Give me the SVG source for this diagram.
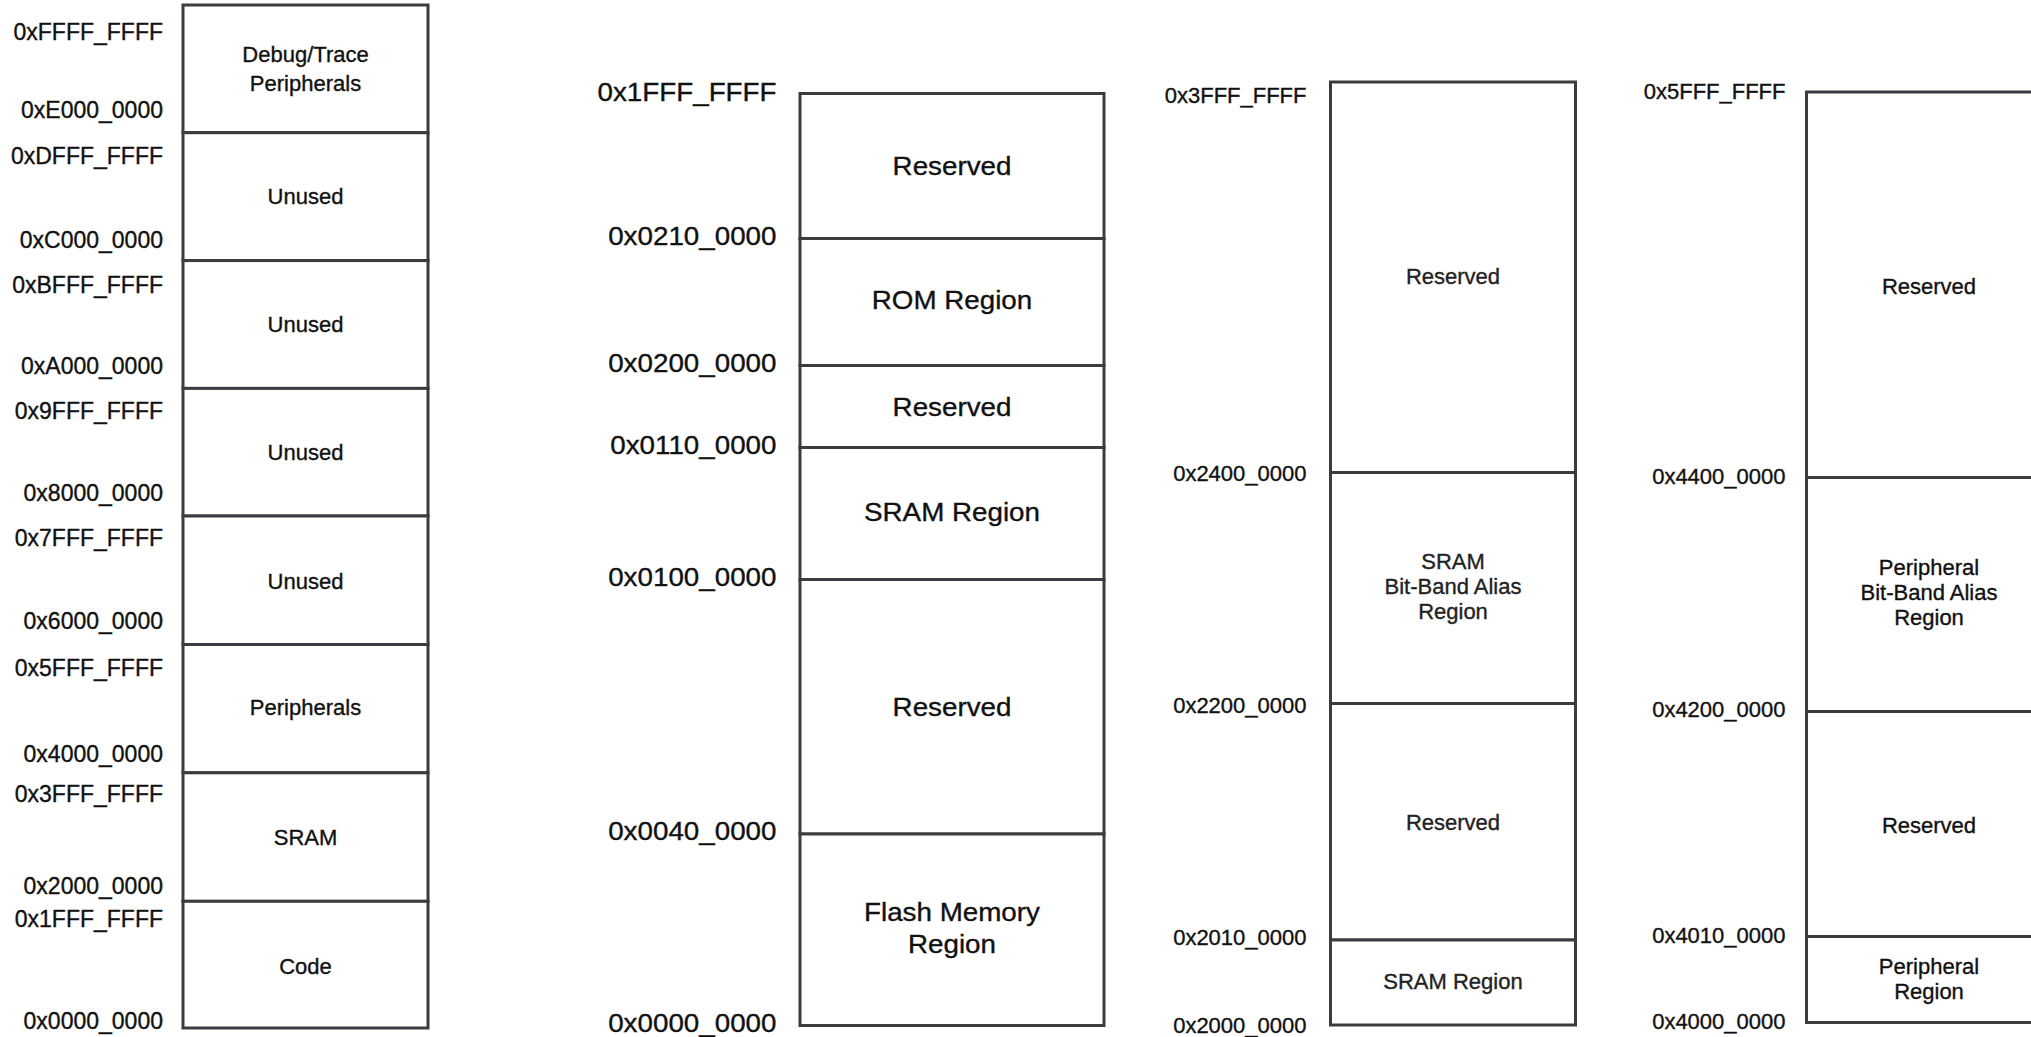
<svg xmlns="http://www.w3.org/2000/svg" width="2031" height="1037" viewBox="0 0 2031 1037">
<style>
.cell{fill:#fff;stroke:#3a3c40;stroke-width:3}
text{font-family:"Liberation Sans",Arial,sans-serif;fill:#111;stroke:#111;stroke-width:0.35px}
.a1{font-size:23px;text-anchor:end}
.a2{font-size:25.6px;text-anchor:end}
.a3{font-size:22px;text-anchor:end}
.t1{font-size:22px;text-anchor:middle}
.t2{font-size:25.6px;text-anchor:middle}
.t3{font-size:22px;text-anchor:middle;fill:#222;stroke:#222}
</style>
<rect width="2031" height="1037" fill="#fff"/>
<g id="map-full">
  <g id="c1-debug"><rect class="cell" x="183" y="5" width="245" height="127.7"/><text class="t1" x="305.5" y="62">Debug/Trace</text><text class="t1" x="305.5" y="90.5">Peripherals</text></g>
  <g id="c1-unused1"><rect class="cell" x="183" y="132.7" width="245" height="127.9"/><text class="t1" x="305.5" y="204">Unused</text></g>
  <g id="c1-unused2"><rect class="cell" x="183" y="260.6" width="245" height="127.8"/><text class="t1" x="305.5" y="332">Unused</text></g>
  <g id="c1-unused3"><rect class="cell" x="183" y="388.4" width="245" height="127.6"/><text class="t1" x="305.5" y="460">Unused</text></g>
  <g id="c1-unused4"><rect class="cell" x="183" y="516" width="245" height="128.5"/><text class="t1" x="305.5" y="588.5">Unused</text></g>
  <g id="c1-periph"><rect class="cell" x="183" y="644.5" width="245" height="128.3"/><text class="t1" x="305.5" y="715">Peripherals</text></g>
  <g id="c1-sram"><rect class="cell" x="183" y="772.8" width="245" height="128.5"/><text class="t1" x="305.5" y="845">SRAM</text></g>
  <g id="c1-code"><rect class="cell" x="183" y="901.3" width="245" height="126.7"/><text class="t1" x="305.5" y="973.5">Code</text></g>
  <g id="c1-labels">
    <text class="a1" x="163" y="40">0xFFFF_FFFF</text>
    <text class="a1" x="163" y="118">0xE000_0000</text>
    <text class="a1" x="163" y="164">0xDFFF_FFFF</text>
    <text class="a1" x="163" y="248">0xC000_0000</text>
    <text class="a1" x="163" y="293">0xBFFF_FFFF</text>
    <text class="a1" x="163" y="374">0xA000_0000</text>
    <text class="a1" x="163" y="419">0x9FFF_FFFF</text>
    <text class="a1" x="163" y="500.5">0x8000_0000</text>
    <text class="a1" x="163" y="545.5">0x7FFF_FFFF</text>
    <text class="a1" x="163" y="628.5">0x6000_0000</text>
    <text class="a1" x="163" y="676">0x5FFF_FFFF</text>
    <text class="a1" x="163" y="761.5">0x4000_0000</text>
    <text class="a1" x="163" y="802">0x3FFF_FFFF</text>
    <text class="a1" x="163" y="894">0x2000_0000</text>
    <text class="a1" x="163" y="927">0x1FFF_FFFF</text>
    <text class="a1" x="163" y="1029">0x0000_0000</text>
  </g>
</g>
<g id="map-code">
  <g id="c2-reserved1"><rect class="cell" x="800" y="93.5" width="304" height="145"/><text class="t2" transform="matrix(1.085 0 0 1 952 175)">Reserved</text></g>
  <g id="c2-rom"><rect class="cell" x="800" y="238.5" width="304" height="127"/><text class="t2" transform="matrix(1.085 0 0 1 952 308.5)">ROM Region</text></g>
  <g id="c2-reserved2"><rect class="cell" x="800" y="365.5" width="304" height="82"/><text class="t2" transform="matrix(1.085 0 0 1 952 416)">Reserved</text></g>
  <g id="c2-sram"><rect class="cell" x="800" y="447.5" width="304" height="132"/><text class="t2" transform="matrix(1.085 0 0 1 952 520.5)">SRAM Region</text></g>
  <g id="c2-reserved3"><rect class="cell" x="800" y="579.5" width="304" height="254.5"/><text class="t2" transform="matrix(1.085 0 0 1 952 716)">Reserved</text></g>
  <g id="c2-flash"><rect class="cell" x="800" y="834" width="304" height="191.5"/><text class="t2" transform="matrix(1.085 0 0 1 952 920.5)">Flash Memory</text><text class="t2" transform="matrix(1.085 0 0 1 952 952.5)">Region</text></g>
  <g id="c2-labels">
    <text class="a2" transform="matrix(1.085 0 0 1 776.5 100.5)">0x1FFF_FFFF</text>
    <text class="a2" transform="matrix(1.085 0 0 1 776.5 245)">0x0210_0000</text>
    <text class="a2" transform="matrix(1.085 0 0 1 776.5 371.5)">0x0200_0000</text>
    <text class="a2" transform="matrix(1.085 0 0 1 776.5 454)">0x0110_0000</text>
    <text class="a2" transform="matrix(1.085 0 0 1 776.5 586)">0x0100_0000</text>
    <text class="a2" transform="matrix(1.085 0 0 1 776.5 840)">0x0040_0000</text>
    <text class="a2" transform="matrix(1.085 0 0 1 776.5 1031.5)">0x0000_0000</text>
  </g>
</g>
<g id="map-sram">
  <g id="c3-reserved1"><rect class="cell" x="1330.5" y="82" width="245" height="390.5"/><text class="t3" x="1453" y="284">Reserved</text></g>
  <g id="c3-bitband"><rect class="cell" x="1330.5" y="472.5" width="245" height="231"/><text class="t3" x="1453" y="568.5">SRAM</text><text class="t3" x="1453" y="593.5">Bit-Band Alias</text><text class="t3" x="1453" y="619">Region</text></g>
  <g id="c3-reserved2"><rect class="cell" x="1330.5" y="703.5" width="245" height="236.5"/><text class="t3" x="1453" y="830">Reserved</text></g>
  <g id="c3-sram"><rect class="cell" x="1330.5" y="940" width="245" height="85"/><text class="t3" x="1453" y="988.5">SRAM Region</text></g>
  <g id="c3-labels">
    <text class="a3" x="1306.5" y="102.5">0x3FFF_FFFF</text>
    <text class="a3" x="1306.5" y="481">0x2400_0000</text>
    <text class="a3" x="1306.5" y="712.5">0x2200_0000</text>
    <text class="a3" x="1306.5" y="944.5">0x2010_0000</text>
    <text class="a3" x="1306.5" y="1033">0x2000_0000</text>
  </g>
</g>
<g id="map-periph">
  <g id="c4-reserved1"><rect class="cell" x="1806.5" y="92" width="245" height="385.5"/><text class="t1" x="1929" y="294">Reserved</text></g>
  <g id="c4-bitband"><rect class="cell" x="1806.5" y="477.5" width="245" height="234"/><text class="t1" x="1929" y="575">Peripheral</text><text class="t1" x="1929" y="600">Bit-Band Alias</text><text class="t1" x="1929" y="625">Region</text></g>
  <g id="c4-reserved2"><rect class="cell" x="1806.5" y="711.5" width="245" height="225"/><text class="t1" x="1929" y="832.5">Reserved</text></g>
  <g id="c4-periph"><rect class="cell" x="1806.5" y="936.5" width="245" height="86"/><text class="t1" x="1929" y="973.5">Peripheral</text><text class="t1" x="1929" y="998.5">Region</text></g>
  <g id="c4-labels">
    <text class="a3" x="1785.5" y="98.5">0x5FFF_FFFF</text>
    <text class="a3" x="1785.5" y="484">0x4400_0000</text>
    <text class="a3" x="1785.5" y="716.5">0x4200_0000</text>
    <text class="a3" x="1785.5" y="942.5">0x4010_0000</text>
    <text class="a3" x="1785.5" y="1028.5">0x4000_0000</text>
  </g>
</g>
</svg>
